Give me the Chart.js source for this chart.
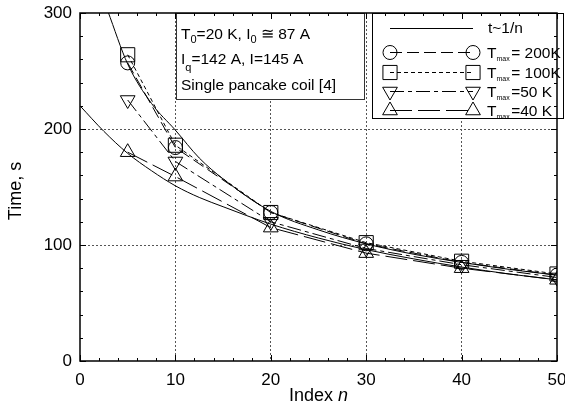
<!DOCTYPE html>
<html>
<head>
<meta charset="utf-8">
<script src="https://cdn.jsdelivr.net/npm/chart.js@4"></script>
<style>
  body { margin: 0; background: #fff; }
</style>
</head>
<body>
<canvas id="chart" width="565" height="416"></canvas>
<script>
// measured points (index n -> time, s)
const nIndex = [5, 10, 20, 30, 40, 50];
const t200K = [257, 184, 128, 101, 85, 74];
const t100K = [264, 186, 128, 102, 86, 75];
const t50K = [225, 172, 120, 97, 83, 72];
const t40K = [180, 159, 115, 93, 80, 70];

// the two t~1/n curves
const fitUpperN = [2.9, 5, 7.5, 10, 12.5, 15, 20, 25, 30, 35, 40, 45, 50];
const fitUpperT = [302, 256, 222, 199, 175, 157, 129, 113, 101, 92, 85, 79, 74];
const fitLowerN = [0, 2.5, 5, 7.5, 10, 12.5, 15, 20, 25, 30, 35, 40, 45, 50];
const fitLowerT = [220, 198, 179, 164, 151, 141, 133, 118, 106, 96, 88, 81, 75, 70];

const xTicks = [0, 10, 20, 30, 40, 50];
const yTicks = [0, 100, 200, 300];

const FONT = '"Liberation Sans", Arial, Helvetica, sans-serif';
Chart.defaults.font.family = FONT;
Chart.defaults.color = "#000";

const pts = (xs, ys) => xs.map((x, i) => ({ x: x, y: ys[i] }));

const markerSeries = [
  { name: "= 200K", data: t200K, style: "circle", radius: 7, rot: 0, dash: [12, 5] },
  { name: "= 100K", data: t100K, style: "rect", radius: 10, rot: 0, dash: [4, 3] },
  { name: "=50 K", data: t50K, style: "triangle", radius: 8.5, rot: 180, dash: [14, 4, 4, 4] },
  { name: "=40 K", data: t40K, style: "triangle", radius: 8.5, rot: 0, dash: [22, 6] }
];

const datasets = [
  { label: "fitUpper", data: pts(fitUpperN, fitUpperT), borderColor: "#000", borderWidth: 1,
    pointRadius: 0, cubicInterpolationMode: "monotone", fill: false },
  { label: "fitLower", data: pts(fitLowerN, fitLowerT), borderColor: "#000", borderWidth: 1,
    pointRadius: 0, cubicInterpolationMode: "monotone", fill: false }
];
markerSeries.forEach(s => {
  datasets.push({
    label: s.name,
    data: pts(nIndex, s.data),
    borderColor: "#000",
    borderWidth: 1,
    borderDash: s.dash,
    tension: 0,
    fill: false,
    pointStyle: s.style,
    pointRadius: s.radius,
    pointRotation: s.rot,
    pointBorderColor: "#000",
    pointBorderWidth: 1,
    pointBackgroundColor: "rgba(0,0,0,0)"
  });
});

function line(ctx, x1, y1, x2, y2) {
  ctx.beginPath();
  ctx.moveTo(x1, y1);
  ctx.lineTo(x2, y2);
  ctx.stroke();
}

// parts: [text, subOffset, subSize, gapAfter]
function drawRich(ctx, parts, x, y, size) {
  parts.forEach(([txt, sub, subSize, gap]) => {
    const fs = sub ? subSize : size;
    ctx.font = fs + "px " + FONT;
    ctx.fillText(txt, x, sub ? y + sub : y);
    x += ctx.measureText(txt).width + (gap || 0);
  });
}

const decor = {
  id: "decor",
  afterDraw(chart) {
    const ctx = chart.ctx;
    const xs = chart.scales.x, ys = chart.scales.y;
    const { left, right, top, bottom } = chart.chartArea;
    ctx.save();
    ctx.setLineDash([]);
    ctx.strokeStyle = "#000";
    ctx.fillStyle = "#000";

    // annotation box
    ctx.lineWidth = 1;
    ctx.fillStyle = "#fff";
    ctx.fillRect(176, top, 188, 86);
    ctx.strokeStyle = "#333";
    ctx.strokeRect(176.5, top + 0.5, 188, 86);
    ctx.fillStyle = "#000";
    ctx.textBaseline = "alphabetic";
    ctx.textAlign = "left";
    drawRich(ctx, [["T"], ["0", 4, 11], ["=20 K, I"], ["0", 4, 11], [" \u2245 87 A"]], 181, 39, 15.5);
    drawRich(ctx, [["I"], ["q", 7, 11], ["=142 A, I=145 A"]], 181, 64, 15.5);
    drawRich(ctx, [["Single pancake coil [4]"]], 181, 90, 15.5);

    // legend box
    ctx.fillStyle = "#fff";
    ctx.fillRect(372, top, 191, 105);
    ctx.strokeStyle = "#000";
    ctx.strokeRect(372.5, top + 0.5, 191, 105);
    ctx.fillStyle = "#000";
    const lx1 = 390, lx2 = 473, tx = 487;
    line(ctx, lx1, 28.5, lx2, 28.5);
    ctx.font = "15.5px " + FONT;
    ctx.fillText("t~1/n", tx + 1, 33);
    const rowY = [52.5, 72.5, 91.5, 110.5];
    markerSeries.forEach((s, i) => {
      const y = rowY[i];
      ctx.setLineDash(s.dash);
      line(ctx, lx1, y, lx2, y);
      ctx.setLineDash([]);
      ctx.fillStyle = "rgba(0,0,0,0)";
      [lx1, lx2].forEach(px => {
        Chart.helpers.drawPoint(ctx, { pointStyle: s.style, rotation: s.rot, radius: s.radius, borderWidth: 1 }, px, y);
      });
      ctx.fillStyle = "#000";
      drawRich(ctx, [["T"], ["max", 3, 7, 1.5], [s.name]], tx, y + 5, 15.5);
    });

    // frame and inner ticks
    ctx.setLineDash([]);
    ctx.strokeStyle = "#000";
    ctx.lineWidth = 1.5;
    ctx.strokeRect(left, top, right - left, bottom - top);
    ctx.lineWidth = 1;
    for (let v = 0; v <= 50; v += 2) {
      const px = Math.round(xs.getPixelForValue(v)) + 0.5;
      const len = v % 10 === 0 ? 6 : 3;
      line(ctx, px, bottom, px, bottom - len);
      line(ctx, px, top, px, top + len);
    }
    for (let v = 0; v <= 300; v += 20) {
      const py = Math.round(ys.getPixelForValue(v)) + 0.5;
      const len = v % 100 === 0 ? 6 : 3;
      line(ctx, left, py, left + len, py);
      line(ctx, right, py, right - len, py);
    }

    // axis titles
    ctx.fillStyle = "#000";
    ctx.textBaseline = "middle";
    ctx.font = "18px " + FONT;
    const w1 = ctx.measureText("Index ").width;
    ctx.font = "italic 18px " + FONT;
    const w2 = ctx.measureText("n").width;
    const cx = (left + right) / 2 - (w1 + w2) / 2;
    ctx.font = "18px " + FONT;
    ctx.fillText("Index ", cx, 396);
    ctx.font = "italic 18px " + FONT;
    ctx.fillText("n", cx + w1, 396);

    ctx.translate(16, (top + bottom) / 2 + 4);
    ctx.rotate(-Math.PI / 2);
    ctx.textAlign = "center";
    ctx.font = "18px " + FONT;
    ctx.fillText("Time, s", 0, 0);
    ctx.restore();
  }
};

const gridColor = ctx => {
  const v = ctx.tick ? ctx.tick.value : null;
  return (v === ctx.scale.min || v === ctx.scale.max) ? "rgba(0,0,0,0)" : "#555";
};

const chartCtx = document.getElementById("chart").getContext("2d");
const chart = new Chart(chartCtx, {
  type: "line",
  data: { datasets: datasets },
  options: {
    responsive: false,
    animation: false,
    layout: { autoPadding: false, padding: { left: 0, right: 8, top: 13, bottom: 0 } },
    plugins: { legend: { display: false }, tooltip: { enabled: false } },
    scales: {
      x: {
        type: "linear",
        min: 0,
        max: 50,
        afterBuildTicks: s => { s.ticks = xTicks.map(v => ({ value: v })); },
        afterFit: s => { s.height = 55; s.paddingLeft = 0; s.paddingRight = 0; },
        ticks: { font: { size: 17 }, padding: 9, maxRotation: 0 },
        grid: { drawTicks: false, color: gridColor, lineWidth: 1 },
        border: { display: false, dash: [2, 2] }
      },
      y: {
        min: 0,
        max: 300,
        afterBuildTicks: s => { s.ticks = yTicks.map(v => ({ value: v })); },
        afterFit: s => { s.width = 80; s.paddingTop = 0; s.paddingBottom = 0; },
        ticks: { font: { size: 17 }, padding: 8 },
        grid: { drawTicks: false, color: gridColor, lineWidth: 1 },
        border: { display: false, dash: [2, 2] }
      }
    }
  },
  plugins: [decor]
});
</script>
</body>
</html>
